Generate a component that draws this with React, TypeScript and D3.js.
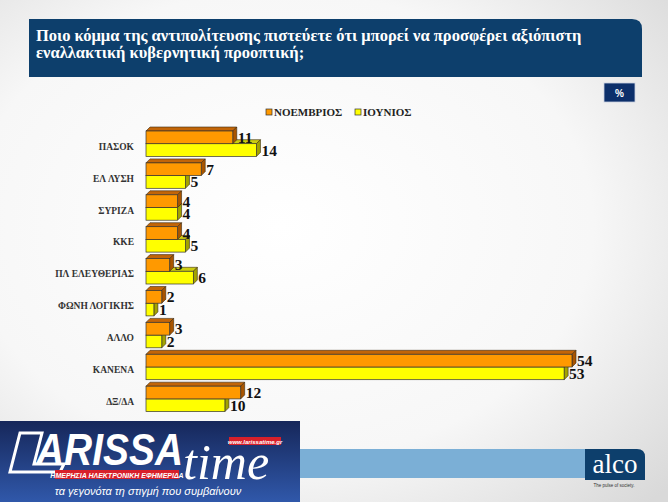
import React from 'react';
import * as d3 from 'd3';

const categories = ['ΠΑΣΟΚ', 'ΕΛ ΛΥΣΗ', 'ΣΥΡΙΖΑ', 'ΚΚΕ', 'ΠΛ ΕΛΕΥΘΕΡΙΑΣ', 'ΦΩΝΗ ΛΟΓΙΚΗΣ', 'ΑΛΛΟ', 'ΚΑΝΕΝΑ', 'ΔΞ/ΔΑ'];
const november = [11, 7, 4, 4, 3, 2, 3, 54, 12];
const june = [14, 5, 4, 5, 6, 1, 2, 53, 10];
const seriesNames = ['ΝΟΕΜΒΡΙΟΣ', 'ΙΟΥΝΙΟΣ'];

const titleLines = [
  'Ποιο κόμμα της αντιπολίτευσης πιστεύετε ότι μπορεί να προσφέρει αξιόπιστη',
  'εναλλακτική κυβερνητική προοπτική;',
];

const W = 668;
const H = 502;
const serif = '"Liberation Serif", "Times New Roman", serif';
const sans = '"Liberation Sans", Arial, sans-serif';

const colors = [
  { front: '#ff9900', top: '#c26508', side: '#a95500' },
  { front: '#ffff00', top: '#cccc10', side: '#a3a300' },
];

export default function App() {
  const x = d3.scaleLinear().domain([0, 54]).range([146, 572]);
  const y = d3.scaleBand<string>().domain(categories).range([131, 131 + 9 * 31.9]);
  const h = 12.7;
  const d = 4;

  const bar = (cat: string, v: number, s: number, key: string) => {
    const x0 = x(0);
    const x1 = x(v);
    const top = (y(cat) as number) + s * h;
    const c = colors[s];
    const topFace = `M${x0},${top}L${x0 + d},${top - d}L${x1 + d},${top - d}L${x1},${top}Z`;
    const side = `M${x1},${top}L${x1 + d},${top - d}L${x1 + d},${top + h - d}L${x1},${top + h}Z`;
    return (
      <g key={key}>
        <path d={topFace} fill={c.top} stroke="#3a2a10" strokeWidth={0.6} />
        <path d={side} fill={c.side} stroke="#3a2a10" strokeWidth={0.6} />
        <rect x={x0} y={top} width={x1 - x0} height={h} fill={c.front} stroke="#333" strokeWidth={0.7} />
      </g>
    );
  };

  const valueLabel = (cat: string, v: number, s: number, key: string) => {
    const top = (y(cat) as number) + s * h;
    return (
      <text key={key} x={x(v) + d + 1} y={top + h / 2 + 5.5} fontFamily={serif} fontWeight="bold"
        fontSize={15.5} fill="#111">{v}</text>
    );
  };

  return (
    <svg width={W} height={H} style={{ position: 'absolute', left: 0, top: 0 }}>
      <defs>
        <radialGradient id="bg" cx="42%" cy="45%" r="78%">
          <stop offset="0%" stopColor="#ffffff" />
          <stop offset="60%" stopColor="#f7f7f7" />
          <stop offset="100%" stopColor="#d9d9d9" />
        </radialGradient>
        <linearGradient id="lt" x1="0" y1="0" x2="0" y2="1">
          <stop offset="0%" stopColor="#16275a" />
          <stop offset="100%" stopColor="#3058aa" />
        </linearGradient>
      </defs>
      <rect width={W} height={H} fill="url(#bg)" />

      {/* title box */}
      <path d="M29,19H632Q642,19 642,29V77H29Z" fill="#0d3f6c" />
      {titleLines.map((t, i) => (
        <text key={i} x={36} y={41 + i * 17} fontFamily={serif} fontWeight="bold" fontSize={16.5} fill="#fff">{t}</text>
      ))}

      <rect x={604} y={83} width={31} height={19} fill="#0c2f6a" stroke="#c8d0e0" strokeWidth={0.8} />
      <text x={619.5} y={96.5} textAnchor="middle" fontFamily={sans} fontWeight="bold" fontSize={10} fill="#fff">%</text>

      {/* legend */}
      {seriesNames.map((n, i) => (
        <g key={n} transform={`translate(${i === 0 ? 266 : 355},109)`}>
          <rect width={6} height={6} fill={colors[i].front} stroke="#333" strokeWidth={0.7} />
          <text x={8} y={7} fontFamily={serif} fontWeight="bold" fontSize={11} fill="#222">{n}</text>
        </g>
      ))}

      {/* bars */}
      {categories.map((c, i) => bar(c, june[i], 1, 'j' + i))}
      {categories.map((c, i) => bar(c, november[i], 0, 'n' + i))}
      {categories.map((c, i) => valueLabel(c, november[i], 0, 'ln' + i))}
      {categories.map((c, i) => valueLabel(c, june[i], 1, 'lj' + i))}

      {categories.map((c) => (
        <text key={c} x={134} y={(y(c) as number) + h + 6} textAnchor="end" fontFamily={serif}
          fontWeight="bold" fontSize={9.5} fill="#333">{c}</text>
      ))}

      {/* footer */}
      <rect x={300} y={449} width={287} height={29} fill="#7bafd6" />
      <path d="M585,449H637Q645,449 645,457V480H585Z" fill="#0d3f6c" />
      <text x={615} y={473} textAnchor="middle" fontFamily={serif} fontSize={27} fill="#fff">alco</text>
      <text x={614} y={487} textAnchor="middle" fontFamily={sans} fontSize={4.5} fill="#333">The pulse of society.</text>

      {/* watermark */}
      <rect x={0} y={421} width={300} height={81} fill="url(#lt)" />
      <path d="M20,433H42L34,464H64L60,472H10Z" fill="none" stroke="#fff" strokeWidth={3} />
      <text x={36} y={465} fontFamily={sans} fontWeight="bold" fontStyle="italic" fontSize={44}
        textLength={147} lengthAdjust="spacingAndGlyphs" fill="#fff">ARISSA</text>
      <rect x={229} y={437} width={52} height={8} fill="#d8202a" />
      <text x={255} y={443.5} textAnchor="middle" fontFamily={sans} fontWeight="bold" fontStyle="italic" fontSize={6} fill="#fff">www.larissatime.gr</text>
      <text x={183} y={479} fontFamily={serif} fontStyle="italic" fontSize={50} fill="#fff">time</text>
      <rect x={55} y={470} width={124} height={9} fill="#d8202a" />
      <text x={117} y={477.5} textAnchor="middle" fontFamily={sans} fontWeight="bold" fontStyle="italic" fontSize={7} fill="#fff">ΗΜΕΡΗΣΙΑ ΗΛΕΚΤΡΟΝΙΚΗ ΕΦΗΜΕΡΙΔΑ</text>
      <text x={148} y={495} textAnchor="middle" fontFamily={sans} fontStyle="italic" fontSize={11} fill="#fff">τα γεγονότα τη στιγμή που συμβαίνουν</text>
    </svg>
  );
}
